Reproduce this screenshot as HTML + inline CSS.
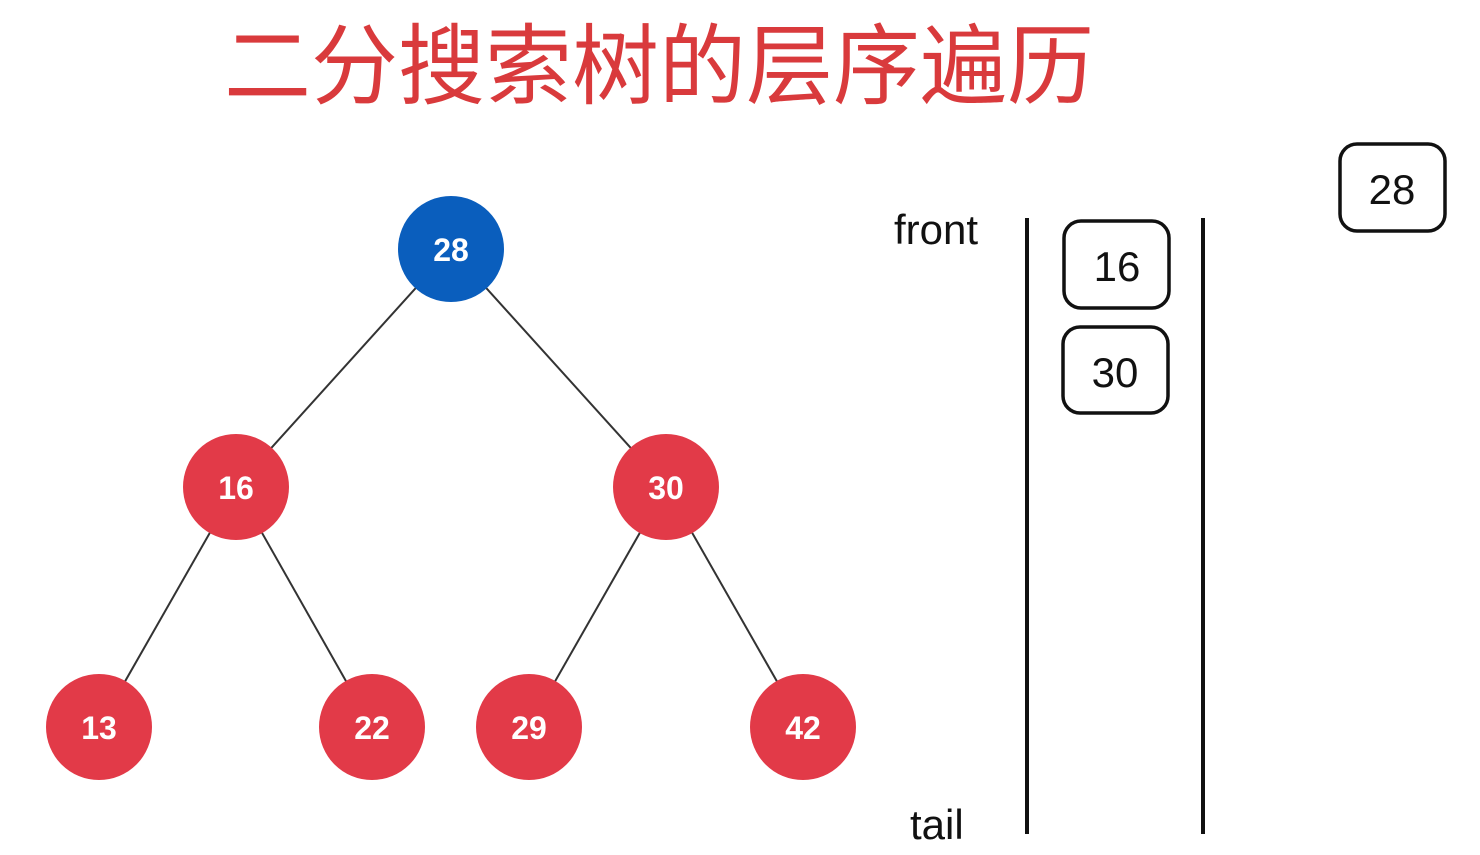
<!DOCTYPE html>
<html><head><meta charset="utf-8"><style>
html,body{margin:0;padding:0;background:#fff;width:1480px;height:855px;overflow:hidden}
</style></head><body>
<svg width="1480" height="855" xmlns="http://www.w3.org/2000/svg">
<text x="224" y="97" font-family="Liberation Sans, Noto Sans CJK SC, sans-serif" font-size="88" fill="#d93a3c" textLength="870" lengthAdjust="spacingAndGlyphs">二分搜索树的层序遍历</text>
<g stroke="#333" stroke-width="2">
<line x1="451" y1="249" x2="236" y2="487"/>
<line x1="451" y1="249" x2="666" y2="487"/>
<line x1="236" y1="487" x2="99" y2="727"/>
<line x1="236" y1="487" x2="372" y2="727"/>
<line x1="666" y1="487" x2="529" y2="727"/>
<line x1="666" y1="487" x2="803" y2="727"/>
</g>
<circle cx="451" cy="249" r="53" fill="#0a5ebd"/>
<g fill="#e23a48">
<circle cx="236" cy="487" r="53"/><circle cx="666" cy="487" r="53"/>
<circle cx="99" cy="727" r="53"/><circle cx="372" cy="727" r="53"/>
<circle cx="529" cy="727" r="53"/><circle cx="803" cy="727" r="53"/>
</g>
<g fill="#fff" font-family="Liberation Sans, sans-serif" font-weight="bold" font-size="32" text-anchor="middle">
<text x="451" y="261">28</text><text x="236" y="499">16</text><text x="666" y="499">30</text>
<text x="99" y="739">13</text><text x="372" y="739">22</text><text x="529" y="739">29</text><text x="803" y="739">42</text>
</g>
<g stroke="#111" stroke-width="4">
<line x1="1027" y1="218" x2="1027" y2="834"/>
<line x1="1203" y1="218" x2="1203" y2="834"/>
</g>
<g fill="none" stroke="#111" stroke-width="3.5">
<rect x="1064" y="221" width="105" height="87" rx="17"/>
<rect x="1063" y="327" width="105" height="86" rx="17"/>
<rect x="1340" y="144" width="105" height="87" rx="17"/>
</g>
<g fill="#111" font-family="Liberation Sans, sans-serif" font-size="42">
<text x="894" y="244">front</text>
<text x="910" y="839">tail</text>
<text x="1117" y="281" text-anchor="middle">16</text>
<text x="1115" y="387" text-anchor="middle">30</text>
<text x="1392" y="204" text-anchor="middle">28</text>
</g>
</svg>
</body></html>
